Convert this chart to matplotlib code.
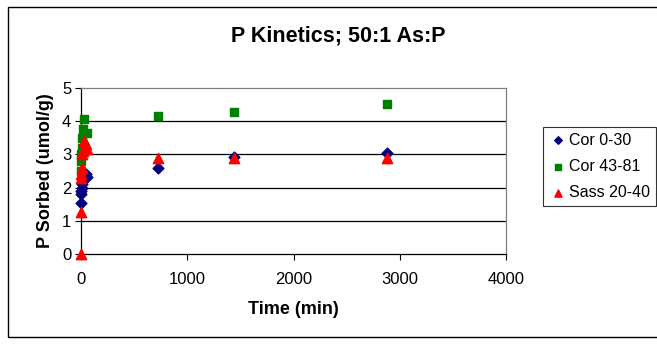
import matplotlib
matplotlib.use("Agg")
import matplotlib.pyplot as plt
from matplotlib.patches import Rectangle

plt.rcParams['font.family'] = ['Liberation Sans', 'DejaVu Sans']

cor030_t = [0.5, 1, 2, 5, 10, 15, 30, 45, 60, 720, 1440, 2880]
cor030_y = [1.55, 1.8, 1.9, 2.0, 2.1, 2.3, 2.45, 2.4, 2.32, 2.58, 2.92, 3.05]

cor4381_t = [0.5, 1, 2, 5, 10, 15, 30, 60, 720, 1440, 2880]
cor4381_y = [2.5, 2.8, 3.0, 3.2, 3.5, 3.78, 4.07, 3.65, 4.15, 4.27, 4.53]

sass_t = [0, 0.5, 1, 2, 5, 10, 15, 30, 45, 60, 720, 1440, 2880]
sass_y = [0.0, 1.28, 2.3, 2.4, 2.6, 3.0, 3.1, 3.4, 3.3, 3.15, 2.88, 2.88, 2.9]

fig = plt.figure(figsize=(6.57, 3.45), dpi=100)
ax = fig.add_axes([81/657, 1 - 254/345, 425/657, 166/345])

ax.scatter(cor030_t, cor030_y, marker='D', s=30, color='#000080', label='Cor 0-30', zorder=3)
ax.scatter(cor4381_t, cor4381_y, marker='s', s=40, color='#008000', label='Cor 43-81', zorder=3)
ax.scatter(sass_t, sass_y, marker='^', s=55, color='#FF0000', label='Sass 20-40', zorder=4)

ax.set_xlim(0, 4000)
ax.set_ylim(0, 5)
ax.set_xticks([0, 1000, 2000, 3000, 4000])
ax.set_yticks([0, 1, 2, 3, 4, 5])
for yv in [1, 2, 3, 4]:
    ax.axhline(yv, color='black', lw=0.9, zorder=1)
ax.tick_params(axis='both', labelsize=12, length=4, width=0.8, direction='out')
ax.tick_params(axis='x', pad=9)
ax.tick_params(axis='y', pad=3)
for s in ['left', 'bottom']:
    ax.spines[s].set_color('black')
    ax.spines[s].set_linewidth(0.9)
for s in ['top', 'right']:
    ax.spines[s].set_color('#808080')
    ax.spines[s].set_linewidth(0.9)
for c in ax.collections:
    c.set_clip_on(False)

ax.set_xlabel('Time (min)', fontsize=13, fontweight='bold', labelpad=10)
ax.set_ylabel('P Sorbed (umol/g)', fontsize=13, fontweight='bold', labelpad=6)
fig.text(338/657, 1 - 36/345, 'P Kinetics; 50:1 As:P', fontsize=15.5, fontweight='bold',
         ha='center', va='center')

leg = ax.legend(loc='upper left', bbox_to_anchor=(543/657, 1 - 127/345), bbox_transform=fig.transFigure,
                fontsize=11.5, frameon=True, fancybox=False, edgecolor='black',
                handletextpad=0.1, handlelength=1.2, borderpad=0.35, labelspacing=0.7,
                markerscale=0.7, borderaxespad=0)
leg.get_frame().set_linewidth(0.8)

fig.patches.append(Rectangle((8/657, 1 - 337/345), 700/657, 330/345, transform=fig.transFigure,
                             fill=False, edgecolor='black', lw=1.0))

fig.savefig('out.png', dpi=100)
